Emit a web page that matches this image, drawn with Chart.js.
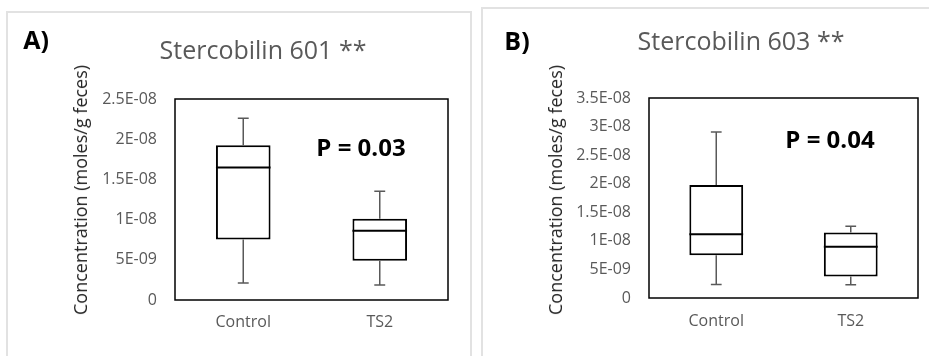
<!DOCTYPE html>
<html>
<head>
<meta charset="utf-8">
<script src="https://cdn.jsdelivr.net/npm/chart.js@4.4.1/dist/chart.umd.min.js"></script>
<style>
  html, body { margin: 0; padding: 0; background: #fff; }
  body { width: 929px; height: 356px; position: relative; overflow: hidden; font-family: "Open Sans", sans-serif; }
  .frame { position: absolute; border: 2px solid #e2e2e2; box-sizing: border-box; }
  canvas { position: absolute; top: 0; }
  .txt { position: absolute; transform: translate(-50%, -50%); line-height: 1; white-space: nowrap; }
  .title { font-size: 25px; color: #595959; }
  .letter { font-size: 25px; font-weight: 700; color: #000; }
  .pval { font-size: 24px; font-weight: 700; color: #000; }
  .ytitle { font-size: 18px; color: #262626; transform: translate(-50%, -50%) rotate(-90deg); }
</style>
</head>
<body>
<div class="frame" style="left:6px; top:11px; width:466px; height:360px;"></div>
<div class="frame" style="left:481px; top:7px; width:460px; height:360px;"></div>

<canvas id="chartA" width="465" height="356" style="left:0px;"></canvas>
<canvas id="chartB" width="464" height="356" style="left:465px;"></canvas>

<div class="txt letter" style="left:36px; top:39px;">A)</div>
<div class="txt title" style="left:263px; top:49px;">Stercobilin 601 **</div>
<div class="txt pval" style="left:361px; top:147px;">P = 0.03</div>
<div class="txt ytitle" style="left:80px; top:190px;">Concentration (moles/g feces)</div>

<div class="txt letter" style="left:517px; top:40px;">B)</div>
<div class="txt title" style="left:741px; top:40px;">Stercobilin 603 **</div>
<div class="txt pval" style="left:830px; top:139px;">P = 0.04</div>
<div class="txt ytitle" style="left:555px; top:190px;">Concentration (moles/g feces)</div>

<script>
// categories + box stats
const categories = ['Control', 'TS2'];

const minA = [2.11e-9, 1.86e-9];
const q1A = [7.54e-9, 4.88e-9];
const medA = [1.648e-8, 8.61e-9];
const q3A = [1.925e-8, 1.01e-8];
const maxA = [2.26e-8, 1.354e-8];
const ticksA = [0, 5e-9, 1e-8, 1.5e-8, 2e-8, 2.5e-8];
const tickLabelsA = ['0', '5E-09', '1E-08', '1.5E-08', '2E-08', '2.5E-08'];

const minB = [2.37e-9, 2.32e-9];
const q1B = [7.5e-9, 3.77e-9];
const medB = [1.117e-8, 8.95e-9];
const q3B = [1.977e-8, 1.145e-8];
const maxB = [2.907e-8, 1.256e-8];
const ticksB = [0, 5e-9, 1e-8, 1.5e-8, 2e-8, 2.5e-8, 3e-8, 3.5e-8];
const tickLabelsB = ['0', '5E-09', '1E-08', '1.5E-08', '2E-08', '2.5E-08', '3E-08', '3.5E-08'];

const GRAY = '#595959';

// whiskers, caps, median and the plot frame
const boxExtras = {
  id: 'boxExtras',
  afterDatasetsDraw(chart, args, opts) {
    const { ctx, chartArea } = chart;
    const y = chart.scales.y;
    const meta = chart.getDatasetMeta(0);
    ctx.save();
    meta.data.forEach((bar, i) => {
      const cx = bar.x;
      const half = bar.width / 2;
      const capHalf = bar.width * 0.1;
      const yMin = y.getPixelForValue(opts.min[i]);
      const yMax = y.getPixelForValue(opts.max[i]);
      const yQ1 = y.getPixelForValue(opts.q1[i]);
      const yQ3 = y.getPixelForValue(opts.q3[i]);
      const yMed = y.getPixelForValue(opts.med[i]);

      ctx.strokeStyle = GRAY;
      ctx.lineWidth = 1.5;
      ctx.beginPath();
      ctx.moveTo(cx, yQ3); ctx.lineTo(cx, yMax);
      ctx.moveTo(cx - capHalf, yMax); ctx.lineTo(cx + capHalf, yMax);
      ctx.moveTo(cx, yQ1); ctx.lineTo(cx, yMin);
      ctx.moveTo(cx - capHalf, yMin); ctx.lineTo(cx + capHalf, yMin);
      ctx.stroke();

      ctx.strokeStyle = '#000';
      ctx.lineWidth = 2;
      ctx.beginPath();
      ctx.moveTo(cx - half, yMed); ctx.lineTo(cx + half, yMed);
      ctx.stroke();
    });
    ctx.strokeStyle = '#000';
    ctx.lineWidth = 1.5;
    ctx.strokeRect(chartArea.left, chartArea.top, chartArea.right - chartArea.left, chartArea.bottom - chartArea.top);
    ctx.restore();
  }
};

function makeBoxChart(id, s) {
  const ctx = document.getElementById(id).getContext('2d');
  return new Chart(ctx, {
    type: 'bar',
    data: {
      labels: categories,
      datasets: [{
        data: s.q1.map((v, i) => [v, s.q3[i]]),
        backgroundColor: '#fff',
        borderColor: '#000',
        borderWidth: 2,
        borderSkipped: false,
        barPercentage: 0.4,
        categoryPercentage: 1,
      }],
    },
    options: {
      responsive: false,
      animation: false,
      layout: { padding: s.pad },
      plugins: {
        legend: { display: false },
        tooltip: { enabled: false },
        boxExtras: { min: s.min, q1: s.q1, med: s.med, q3: s.q3, max: s.max },
      },
      scales: {
        x: {
          grid: { display: false, drawTicks: false },
          border: { display: false },
          ticks: { color: GRAY, padding: s.xPad, font: { family: 'Open Sans', size: 16 } },
          afterFit: (scale) => { scale.height = s.xHeight; },
        },
        y: {
          min: 0,
          max: s.ticks[s.ticks.length - 1],
          grid: { display: false, drawTicks: false },
          border: { display: false },
          afterBuildTicks: (scale) => { scale.ticks = s.ticks.map((v) => ({ value: v })); },
          ticks: {
            color: GRAY,
            padding: 18,
            font: { family: 'Open Sans', size: 16 },
            callback: (value, index) => s.tickLabels[index],
          },
          afterFit: (scale) => { scale.width = s.yWidth; },
        },
      },
    },
    plugins: [boxExtras],
  });
}

makeBoxChart('chartA', {
  min: minA, q1: q1A, med: medA, q3: q3A, max: maxA,
  ticks: ticksA, tickLabels: tickLabelsA,
  pad: { left: 0, right: 17, top: 99, bottom: 0 },
  yWidth: 175, xHeight: 56, xPad: 13,
});

makeBoxChart('chartB', {
  min: minB, q1: q1B, med: medB, q3: q3B, max: maxB,
  ticks: ticksB, tickLabels: tickLabelsB,
  pad: { left: 0, right: 11, top: 98, bottom: 0 },
  yWidth: 184, xHeight: 58, xPad: 14,
});
</script>
</body>
</html>
